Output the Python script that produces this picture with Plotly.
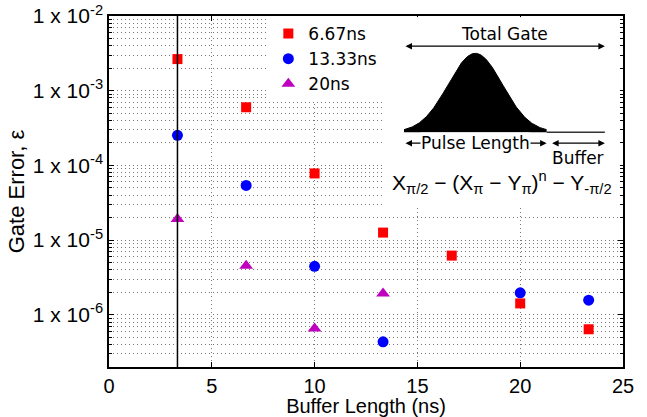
import numpy as np
import plotly.graph_objects as go

# ---- data ----
series_names = ["6.67ns", "13.33ns", "20ns"]
buffer_667 = [3.33, 6.67, 10, 13.33, 16.67, 20, 23.33]
err_667 = [2.65e-3, 6.0e-4, 7.8e-5, 1.26e-5, 6.2e-6, 1.42e-6, 6.4e-7]
buffer_1333 = [3.33, 6.67, 10, 13.33, 20, 23.33]
err_1333 = [2.53e-4, 5.4e-5, 4.46e-6, 4.35e-7, 1.97e-6, 1.57e-6]
buffer_20 = [3.33, 6.67, 10, 13.33]
err_20 = [1.92e-5, 4.55e-6, 6.55e-7, 1.93e-6]
min_buffer = 3.33

xtick_vals = [0, 5, 10, 15, 20, 25]
ytick_vals = [1e-6, 1e-5, 1e-4, 1e-3, 1e-2]
ytick_text = ["1 x 10<sup>-6</sup>", "1 x 10<sup>-5</sup>", "1 x 10<sup>-4</sup>",
              "1 x 10<sup>-3</sup>", "1 x 10<sup>-2</sup>"]
y_min, y_max = 2e-7, 1e-2

# inset schematic (normalised gate time, pulse fraction)
pulse_end = 0.71
pulse_center = 0.355
pulse_sigma = 0.135

AX_FONT = "Liberation Sans, Arial, sans-serif"
DJ_FONT = "DejaVu Sans, Verdana, sans-serif"
GRID = "#777777"
DOT = "1px,3px"

fig = go.Figure()
fig.add_trace(go.Scatter(x=buffer_667, y=err_667, mode="markers", name=series_names[0],
                         marker=dict(symbol="square", size=10, color="#ff0000")))
fig.add_trace(go.Scatter(x=buffer_1333, y=err_1333, mode="markers", name=series_names[1],
                         marker=dict(symbol="circle", size=11, color="#0000ff")))
fig.add_trace(go.Scatter(x=buffer_20, y=err_20, mode="markers", name=series_names[2],
                         marker=dict(symbol="triangle-up", size=12, color="#bf00bf")))

# inset pulse
t = np.linspace(0, pulse_end, 200)
g = np.exp(-0.5 * ((t - pulse_center) / pulse_sigma) ** 2)
fig.add_trace(go.Scatter(x=t, y=g, xaxis="x2", yaxis="y2", mode="lines", fill="tozeroy",
                         fillcolor="black", line=dict(color="black", width=1),
                         showlegend=False, hoverinfo="skip"))
fig.add_trace(go.Scatter(x=[pulse_end, 1.0], y=[0, 0], xaxis="x2", yaxis="y2", mode="lines",
                         line=dict(color="#333", width=1.5), showlegend=False, hoverinfo="skip"))

minor_vals = [k * 10.0 ** e for e in range(-7, -2) for k in range(2, 10)]

fig.update_layout(
    width=647, height=417,
    margin=dict(l=109, r=24, t=16, b=50),
    plot_bgcolor="white", paper_bgcolor="white",
    font=dict(family=AX_FONT, color="black", size=18),
    showlegend=True,
    legend=dict(x=0.31, y=1.0, xanchor="left", yanchor="top", bgcolor="white",
                font=dict(family=DJ_FONT, size=17), borderwidth=0,
                tracegroupgap=0, itemwidth=30),
    xaxis=dict(range=[0, 25], tickvals=xtick_vals, showline=True, linecolor="black",
               linewidth=1.5, mirror="ticks", ticks="inside", ticklen=5, tickcolor="black",
               showgrid=True, gridcolor=GRID, griddash=DOT, gridwidth=1, zeroline=False,
               tickfont=dict(size=20), automargin=False, ticklabeloverflow="allow",
               title=dict(text="Buffer Length (ns)", font=dict(size=20), standoff=0)),
    yaxis=dict(type="log", range=[np.log10(y_min), np.log10(y_max)], tickmode="array",
               tickvals=ytick_vals, ticktext=ytick_text, showline=True, linecolor="black",
               linewidth=1.5, mirror="ticks", ticks="inside", ticklen=5, tickcolor="black",
               showgrid=True, gridcolor=GRID, griddash=DOT, gridwidth=1, zeroline=False,
               tickfont=dict(size=21), automargin=False, ticklabeloverflow="allow",
               minor=dict(tickmode="array", tickvals=minor_vals, ticks="inside", ticklen=3,
                          tickcolor="black", showgrid=True, gridcolor=GRID, griddash=DOT,
                          gridwidth=1),
               title=dict(text="Gate Error, ε", font=dict(size=22), standoff=2)),
    xaxis2=dict(domain=[0.537, 0.994], range=[-0.0945, 1.075], anchor="y2",
                visible=False, fixedrange=True),
    yaxis2=dict(domain=[0.453, 0.997], range=[-0.962, 1.46], anchor="x2",
                visible=False, fixedrange=True),
)

shapes = [
    dict(type="line", xref="x", yref="y domain", x0=min_buffer, x1=min_buffer, y0=0, y1=1,
         line=dict(color="black", width=1.5), layer="above"),
]
fig.update_layout(shapes=shapes)

ann = []
def arrow(x0, x1, y):
    ann.append(dict(xref="x2", yref="y2", axref="x2", ayref="y2", x=x1, y=y, ax=x0, ay=y,
                    showarrow=True, arrowhead=2, arrowside="end+start", arrowsize=1,
                    arrowwidth=1.3, arrowcolor="black", text=""))

arrow(0.0, 1.0, 1.09)
arrow(0.0, pulse_end, -0.14)
arrow(pulse_end + 0.02, 1.0, -0.14)
ann.append(dict(xref="x2", yref="y2", x=0.5, y=1.25, text="Total Gate", showarrow=False,
                font=dict(family=DJ_FONT, size=17)))
ann.append(dict(xref="x2", yref="y2", x=0.355, y=-0.14, text="Pulse Length", showarrow=False,
                bgcolor="white", borderpad=0, font=dict(family=DJ_FONT, size=17)))
ann.append(dict(xref="x2", yref="y2", x=0.865, y=-0.33, text="Buffer", showarrow=False,
                font=dict(family=DJ_FONT, size=17)))
ann.append(dict(xref="x2", yref="y2", x=0.49, y=-0.64,
                text="X<sub>π/2</sub> − (X<sub>π</sub> − Y<sub>π</sub>)<sup>n</sup> − Y<sub>-π/2</sub>",
                showarrow=False, font=dict(family=AX_FONT, size=21)))
fig.update_layout(annotations=ann)

fig.write_html("out.html", config={"displayModeBar": False},
               post_script="document.body.style.margin='0px';")
